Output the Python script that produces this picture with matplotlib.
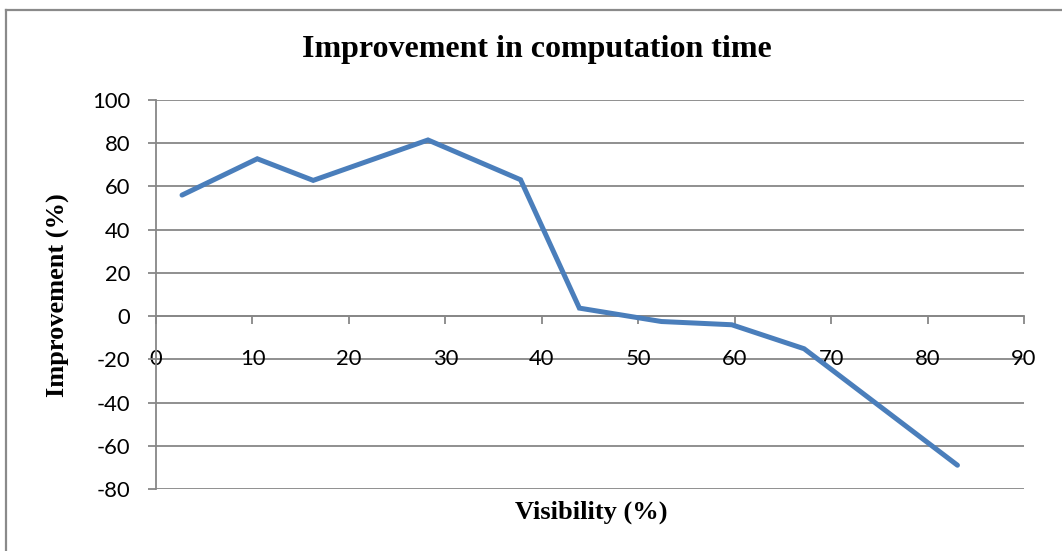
import matplotlib
matplotlib.use("Agg")
import matplotlib.pyplot as plt
from matplotlib.lines import Line2D

# Visibility (%) vs. improvement in computation time (%)
visibility = [2.7, 10.5, 16.3, 28.2, 37.8, 43.9, 52.4, 59.7, 67.2, 83.1]
improvement = [56.0, 72.8, 62.8, 81.5, 63.1, 3.7, -2.5, -4.0, -15.1, -69.0]

x_ticks = [0, 10, 20, 30, 40, 50, 60, 70, 80, 90]
y_ticks = [-80, -60, -40, -20, 0, 20, 40, 60, 80, 100]

W, H = 1062, 551
fig = plt.figure(figsize=(W / 100, H / 100), dpi=100)
fig.patch.set_facecolor("white")

ax = fig.add_axes([156 / W, 1 - 489 / H, (1024 - 156) / W, (489 - 100) / H])

grid_col = "#878787"
tick_font = dict(family=["Lato", "DejaVu Sans"], size=15.8)
serif_bold = dict(family=["Liberation Serif", "DejaVu Serif"], weight="bold")

for s in ["top", "right"]:
    ax.spines[s].set_visible(False)
ax.spines["left"].set_color(grid_col)
ax.spines["left"].set_linewidth(1.3)
# x axis drawn at zero
ax.spines["bottom"].set_position(("data", 0))
ax.spines["bottom"].set_color(grid_col)
ax.spines["bottom"].set_linewidth(1.3)

ax.plot(visibility, improvement, color="#4A7EBB", lw=3.6, solid_joinstyle="miter",
        solid_capstyle="round", zorder=3)

ax.set_xlim(0, 90)
ax.set_ylim(-80, 100)
ax.set_yticks(y_ticks)
ax.set_yticklabels([str(v) for v in y_ticks], **tick_font)
ax.set_xticks(x_ticks)
ax.set_xticklabels([str(v) for v in x_ticks], **tick_font)

# horizontal gridlines
for v in y_ticks:
    ax.axhline(v, color=grid_col, lw=1.3, zorder=1)

ax.tick_params(axis="y", direction="out", length=5.8, width=1.3, color=grid_col, pad=13)
ax.tick_params(axis="x", direction="out", length=5.8, width=1.3, color=grid_col, pad=18)

fig.text(537 / W, 1 - 50 / H, "Improvement in computation time", ha="center",
         va="center", size=23, **serif_bold)
fig.text(591 / W, 1 - 512 / H, "Visibility (%)", ha="center", va="center",
         size=19, **serif_bold)
fig.text(58 / W, 1 - 295 / H, "Improvement (%)", ha="center", va="center",
         rotation=90, size=19, **serif_bold)

# outer chart frame (left and top edges)
fig.add_artist(Line2D([6 / W, 6 / W], [0, 1 - 10 / H], transform=fig.transFigure,
                      color="#8a8a8a", lw=1.6))
fig.add_artist(Line2D([6 / W, 1], [1 - 10 / H, 1 - 10 / H], transform=fig.transFigure,
                      color="#8a8a8a", lw=1.6))

fig.savefig("out.png", dpi=100)
